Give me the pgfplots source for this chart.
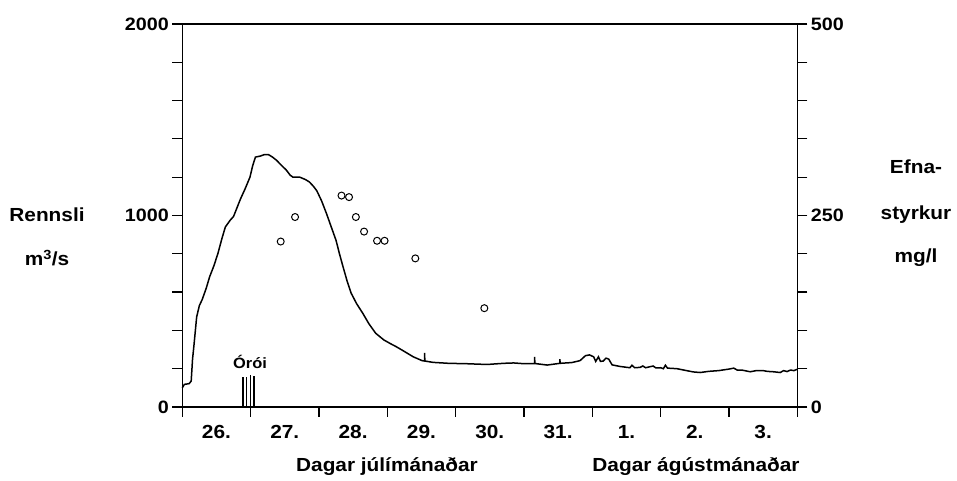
\documentclass[border=0pt]{standalone}
\usepackage{pgfplots}
\pgfplotsset{compat=1.18}
\usepackage{fontspec}
\setmainfont[FakeStretch=1.1]{Liberation Sans}
\begin{document}
\begin{tikzpicture}[x=1bp,y=1bp]
\path[use as bounding box] (0,0) rectangle (957,481);
\begin{axis}[
  at={(182.3bp,74bp)}, anchor=south west,
  scale only axis, width=615bp, height=383bp,
  xmin=0, xmax=9, ymin=0, ymax=2000,
  axis line style={line width=1.2bp},
  tick align=outside,
  major tick length=10bp, minor tick length=10bp,
  every tick/.style={black, line width=1.2bp},
  xtick={0,...,9}, xticklabels={},
  xtick pos=left, ytick pos=left,
  extra x ticks={0.5,1.5,2.5,3.5,4.5,5.5,6.5,7.5,8.5},
  extra x tick labels={26.,27.,28.,29.,30.,31.,1.,2.,3.},
  extra x tick style={major tick length=0pt},
  xticklabel style={font=\bfseries\fontsize{19}{19}\selectfont, text height=14bp, text depth=0bp, anchor=north, yshift=-14bp},
  ytick={0,1000,2000}, yticklabels={0,1000,2000},
  minor y tick num=4,
  yticklabel style={font=\bfseries\fontsize{18}{18}\selectfont},
  clip=false,
]
\addplot[black, line width=1.5bp] coordinates {
(0.00,100) (0.03,118) (0.10,122) (0.13,135) (0.15,250) (0.17,320) (0.21,470)
(0.25,530) (0.29,560) (0.35,620) (0.40,680) (0.46,735) (0.52,800) (0.58,880)
(0.63,940) (0.70,975) (0.75,995) (0.80,1040) (0.85,1085) (0.92,1140) (0.99,1200)
(1.03,1260) (1.07,1305) (1.14,1310) (1.20,1318) (1.26,1318) (1.32,1305)
(1.38,1288) (1.45,1262) (1.52,1238) (1.58,1210) (1.62,1200) (1.72,1200)
(1.80,1188) (1.86,1175) (1.92,1152) (1.97,1128) (2.04,1075) (2.11,1010)
(2.18,940) (2.25,870) (2.30,800) (2.35,735) (2.41,660) (2.47,595) (2.55,540)
(2.64,490) (2.73,435) (2.83,385) (2.95,350) (3.05,330) (3.13,315) (3.25,290)
(3.38,262) (3.51,242) (3.545,240) (3.545,282) (3.55,240) (3.67,233) (3.90,228)
(4.16,226) (4.46,222) (4.70,228) (4.85,230) (5.00,226) (5.155,227) (5.155,262)
(5.16,227) (5.34,219) (5.525,228) (5.525,250) (5.53,228) (5.70,232) (5.82,242)
(5.90,268) (5.96,272) (6.02,262) (6.05,238) (6.09,262) (6.12,238) (6.16,240)
(6.20,255) (6.24,250) (6.29,220) (6.40,212) (6.55,205) (6.58,218) (6.62,205)
(6.70,207) (6.74,214) (6.78,205) (6.89,214) (6.93,204) (7.00,205) (7.04,200)
(7.07,218) (7.10,203) (7.24,200) (7.35,192) (7.48,183) (7.58,180) (7.70,186)
(7.85,190) (8.00,198) (8.07,203) (8.12,193) (8.20,192) (8.31,184) (8.40,190)
(8.50,190) (8.56,186) (8.65,184) (8.75,180) (8.80,190) (8.85,185) (8.90,193)
(8.95,190) (9.00,197)
};
\addplot[ycomb, black, line width=1.8bp, mark=none] coordinates {
(0.893,155) (0.94,155) (0.999,168) (1.05,160)
};
\end{axis}
\begin{axis}[
  at={(182.3bp,74bp)}, anchor=south west,
  scale only axis, width=615bp, height=383bp,
  xmin=0, xmax=9, ymin=0, ymax=500,
  axis x line=none, axis y line*=right,
  axis line style={line width=1.2bp},
  tick align=outside,
  major tick length=10bp, minor tick length=10bp,
  every tick/.style={black, line width=1.2bp},
  ytick={0,250,500}, yticklabels={0,250,500},
  minor y tick num=4,
  yticklabel style={font=\bfseries\fontsize{18}{18}\selectfont},
  clip=false,
]
\addplot[only marks, mark=o, mark size=3.5bp, mark options={line width=1bp, black}] coordinates {
(1.44,216) (1.65,248) (2.33,276) (2.44,274) (2.54,248) (2.66,229)
(2.85,217) (2.96,217) (3.41,194) (4.42,129)
};
\end{axis}
\begin{scope}[every node/.style={font=\bfseries\fontsize{19}{19}\selectfont, inner sep=0pt}]
\node at (47,266) {Rennsli};
\node at (47,223) {m\textsuperscript{3}/s};
\node at (916,314) {Efna-};
\node at (916,266) {styrkur};
\node at (916,223) {mg/l};
\node[font=\bfseries\fontsize{15}{15}\selectfont] at (250,119) {Órói};
\node at (387,14) {Dagar júlímánaðar};
\node at (696,14) {Dagar ágústmánaðar};
\end{scope}
\end{tikzpicture}
\end{document}
